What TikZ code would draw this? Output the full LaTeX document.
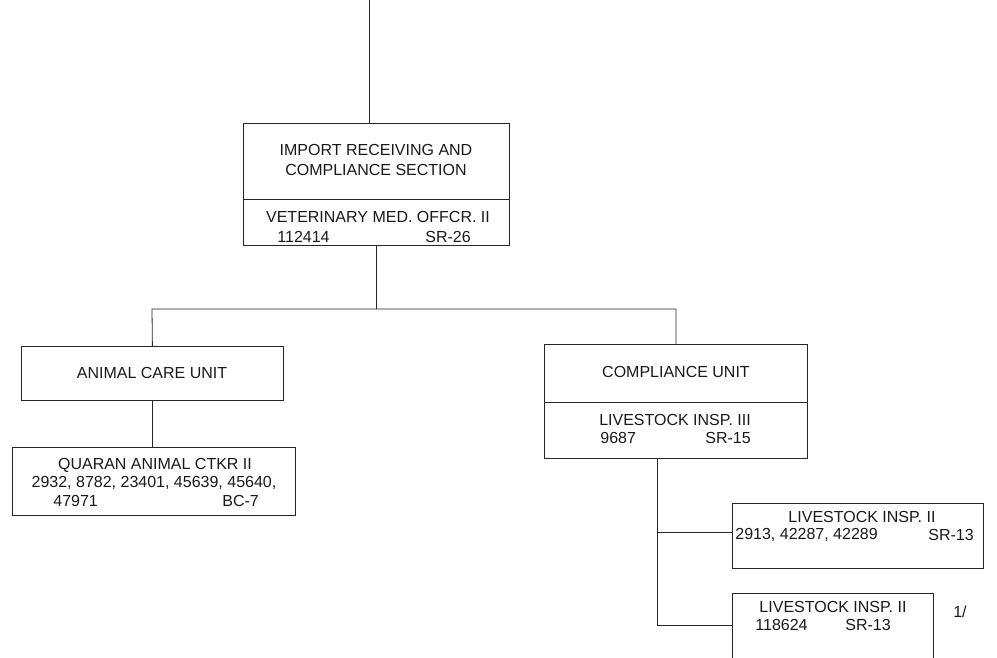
\documentclass[tikz,border=0pt]{standalone}
\usepackage{fontspec}
\setmainfont{Liberation Sans}
\begin{document}
\begin{tikzpicture}[x=1pt,y=-1pt,line width=0.8pt,
  box/.style={draw=black!85,inner sep=0pt,anchor=north west},
  txt/.style={inner sep=0pt,font=\fontsize{16}{18}\selectfont,text=black!90},
  wire/.style={draw=black!85}]
\useasboundingbox (0,0) rectangle (997,658);
% boxes
\node[box,minimum width=266pt,minimum height=122pt] (sec) at (243,123) {};
\node[box,minimum width=262pt,minimum height=54pt] (acu) at (21,346) {};
\node[box,minimum width=283pt,minimum height=68pt] (quar) at (12,447) {};
\node[box,minimum width=263pt,minimum height=114pt] (cu) at (544,344) {};
\node[box,minimum width=251pt,minimum height=65pt] (li2) at (732,503) {};
% open-bottom box
\coordinate (li3nw) at (732,593);
\coordinate (li3ne) at (933,593);
\draw[wire] (732,662) -- (li3nw) -- (li3ne) -- (933,662);
\coordinate (li3w) at (732,625);
% dividers
\draw[wire] (243,199) -- (509,199);
\draw[wire] (544,402) -- (807,402);
% texts
\node[txt] (t1) at (376,150) {IMPORT RECEIVING AND};
\node[txt] (t2) at (376,170) {COMPLIANCE SECTION};
\node[txt] (t3) at (378,217) {VETERINARY MED. OFFCR. II};
\node[txt,anchor=west] (t4) at (277,237) {112414};
\node[txt,anchor=west] (t5) at (425,237) {SR-26};
\node[txt] (t6) at (152,373) {ANIMAL CARE UNIT};
\node[txt] (t7) at (155,465) {QUARAN ANIMAL CTKR II};
\node[txt] (t8) at (154,483) {2932, 8782, 23401, 45639, 45640,};
\node[txt,anchor=west] (t9) at (53,501) {47971};
\node[txt,anchor=west] (t10) at (222,501) {BC-7};
\node[txt] (t11) at (676,372) {COMPLIANCE UNIT};
\node[txt] (t12) at (675,420) {LIVESTOCK INSP. III};
\node[txt,anchor=west] (t13) at (600,438) {9687};
\node[txt,anchor=west] (t14) at (705,438) {SR-15};
\node[txt] (t15) at (862,517) {LIVESTOCK INSP. II};
\node[txt,anchor=west] (t16) at (735,535) {2913, 42287, 42289};
\node[txt,anchor=west] (t17) at (928,535) {SR-13};
\node[txt] (t18) at (833,607) {LIVESTOCK INSP. II};
\node[txt,anchor=west] (t19) at (755,625) {118624};
\node[txt,anchor=west] (t20) at (845,625) {SR-13};
\node[txt] (t21) at (960,612) {1/};
% connectors
\coordinate (topin) at (369,0);
\draw[wire] (topin) -- (topin |- sec.north);
\coordinate (busL) at (152,309);
\coordinate (busR) at (676,309);
\draw[wire] (sec.south) -- (sec.south |- busL);
\draw[wire,line join=miter] (acu.north) -- (busL) -- (busR) -- (busR |- cu.north);
\draw[wire] (acu.south) -- (acu.south |- quar.north);
\coordinate (cuS) at (657,458);
\draw[wire] (cuS) |- (li3w);
\draw[wire] (cuS |- 0,532) -- (li2.west |- 0,532);
\end{tikzpicture}
\end{document}
